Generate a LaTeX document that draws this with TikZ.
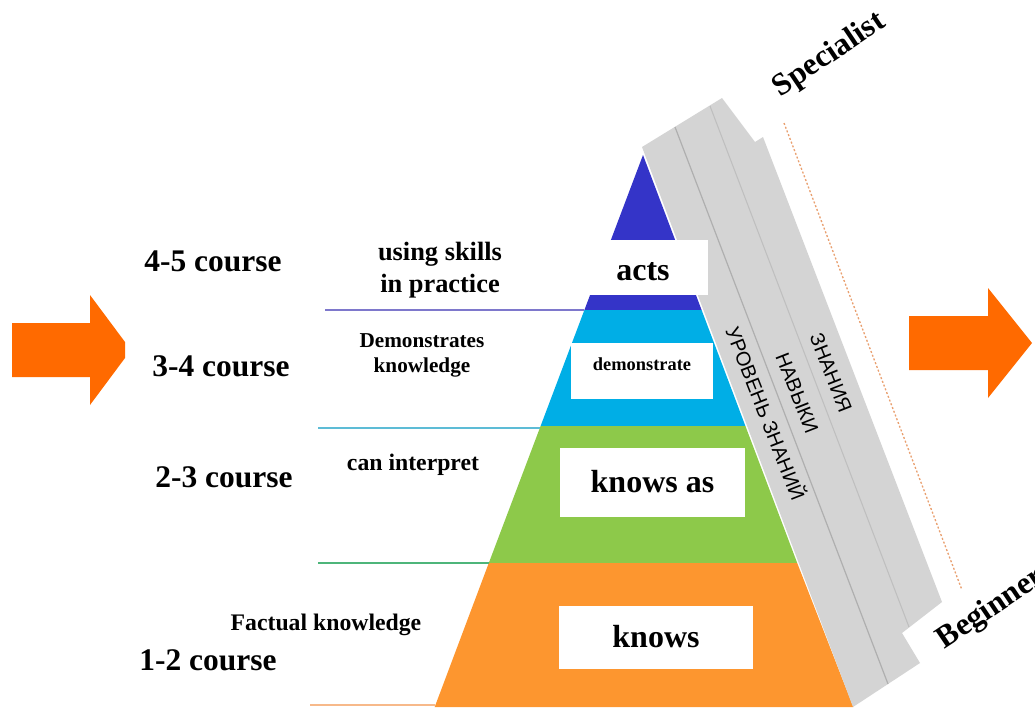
\documentclass[tikz,border=0pt]{standalone}
\usepackage{fontspec}
\setmainfont{Liberation Serif}
\newfontfamily\cyrfont{Liberation Sans}
\usepackage{tikz}
\usetikzlibrary{positioning, calc}
\definecolor{arroworange}{HTML}{FF6A00}
\definecolor{actsblue}{HTML}{3434C8}
\definecolor{democyan}{HTML}{00AEE6}
\definecolor{interpgreen}{HTML}{8DC94A}
\definecolor{factorange}{HTML}{FD962F}
\definecolor{bandgray}{HTML}{D4D4D4}
\definecolor{bandline}{HTML}{AFAFAF}
\tikzset{
    course/.style={font=\bfseries\fontsize{23.6}{28}\selectfont, anchor=base},
    skill/.style={font=\bfseries\fontsize{17.8}{22}\selectfont, anchor=base},
    wbox/.style={rectangle, fill=white, inner sep=0pt, font=\bfseries\fontsize{24}{28}\selectfont},
    stripname/.style={font=\cyrfont\fontsize{15}{18}\selectfont, rotate=-68.6},
    levelname/.style={font=\bfseries\fontsize{23.6}{28}\selectfont, anchor=base west, rotate=34},
    bigarrow/.style={fill=arroworange, draw=none},
    sep/.style={line width=1.5pt},
}
\begin{document}
\begin{tikzpicture}[x=0.75pt, y=-0.75pt]
    \useasboundingbox (0,0) rectangle (1035,707);
    % pyramid
    \coordinate (apex) at (643,155);
    \coordinate (l1) at (584.4,310);  \coordinate (r1) at (701.6,310);
    \coordinate (l2) at (540.6,426);  \coordinate (r2) at (745.4,426);
    \coordinate (l3) at (488.8,563);  \coordinate (r3) at (797.2,563);
    \coordinate (l4) at (434.7,707);  \coordinate (r4) at (853.3,707);
    \fill[actsblue] (apex) -- (l1) -- (r1) -- cycle;
    \fill[democyan] (l1) -- (r1) -- (r2) -- (l2) -- cycle;
    \fill[interpgreen] (l2) -- (r2) -- (r3) -- (l3) -- cycle;
    \fill[factorange] (l3) -- (r3) -- (r4) -- (l4) -- cycle;
    % level lines
    \coordinate (s1) at (325,310);
    \coordinate (s2) at (318,428);
    \coordinate (s3) at (318,563);
    \coordinate (s4) at (310,705);
    \coordinate (e2) at (540,428);
    \coordinate (e4) at (434.7,705);
    \draw[sep, draw={rgb,255:red,126;green,120;blue,204}] (s1) -- (l1);
    \draw[sep, line width=1.2pt, draw={rgb,255:red,93;green,188;blue,214}] (s2) -- (e2);
    \draw[sep, draw={rgb,255:red,77;green,181;blue,122}] (s3) -- (l3);
    \draw[sep, draw={rgb,255:red,247;green,185;blue,138}] (s4) -- (e4);
    % gray band
    \fill[bandgray] (642,147) -- (722,98) -- (755,142) -- (763,137) -- (942,602)
        -- (902,633) -- (920,663) -- (853,707) -- cycle;
    \draw[bandline, line width=0.9pt] (675,127) -- (888,684);
    \draw[bandline!80, line width=0.8pt] (710,106) -- (909,627);
    \node[stripname] (urov) at (767,413) {УРОВЕНЬ ЗНАНИЙ};
    \node[stripname] (navyki) at (797,393) {НАВЫКИ};
    \node[stripname] (znaniya) at (831,373) {ЗНАНИЯ};
    % boxes
    \node[wbox, minimum width=97.5pt, minimum height=41.25pt, text height=18.8pt, text depth=0pt] (acts) at (643,267.5) {acts};
    \node[wbox, minimum width=106.5pt, minimum height=42pt, text height=9pt, text depth=10.5pt,
        font=\bfseries\fontsize{13.8}{16}\selectfont] (demo) at (642,371) {demonstrate};
    \node[wbox, minimum width=138.75pt, minimum height=51.75pt, text height=14.25pt, text depth=0pt] (knowsas) at (652.5,482.5) {knows as};
    \node[wbox, minimum width=145.5pt, minimum height=47.25pt, text height=14.25pt, text depth=0pt] (knows) at (656,637.5) {knows};
    % courses
    \node[course] (c45) at (213,271) {4-5 course};
    \node[course] (c34) at (221,376) {3-4 course};
    \node[course] (c23) at (224,487) {2-3 course};
    \node[course] (c12) at (208,670) {1-2 course};
    % skills
    \node[skill, font=\bfseries\fontsize{19.8}{24}\selectfont] (sk4) at (440,260) {using skills};
    \node[skill, font=\bfseries\fontsize{19.8}{24}\selectfont] (sk4b) at (440,292) {in practice};
    \node[skill, font=\bfseries\fontsize{15.9}{19}\selectfont] (sk3) at (422,347) {Demonstrates};
    \node[skill, font=\bfseries\fontsize{15.9}{19}\selectfont] (sk3b) at (422,372) {knowledge};
    \node[skill] (sk2) at (413,470) {can interpret};
    \node[skill] (sk1) at (326,630) {Factual knowledge};
    % arrows
    \fill[bigarrow] (12,323) -- (90,323) -- (90,295) -- (125,342) -- (125,358)
        -- (90,405) -- (90,377) -- (12,377) -- cycle;
    \fill[bigarrow] (909,316) -- (988,316) -- (988,288) -- (1032,343)
        -- (988,398) -- (988,370) -- (909,370) -- cycle;
    % specialist / beginner
    \coordinate (top) at (784,123);
    \coordinate (bottom) at (962,590);
    \draw[draw={rgb,255:red,233;green,160;blue,112}, line width=1pt, dash pattern=on 1.5pt off 1.5pt] (top) -- (bottom);
    \node[levelname] (spec) at (777,100) {Specialist};
    \node[levelname] (begin) at (941,652) {Beginner};
\end{tikzpicture}
\end{document}
